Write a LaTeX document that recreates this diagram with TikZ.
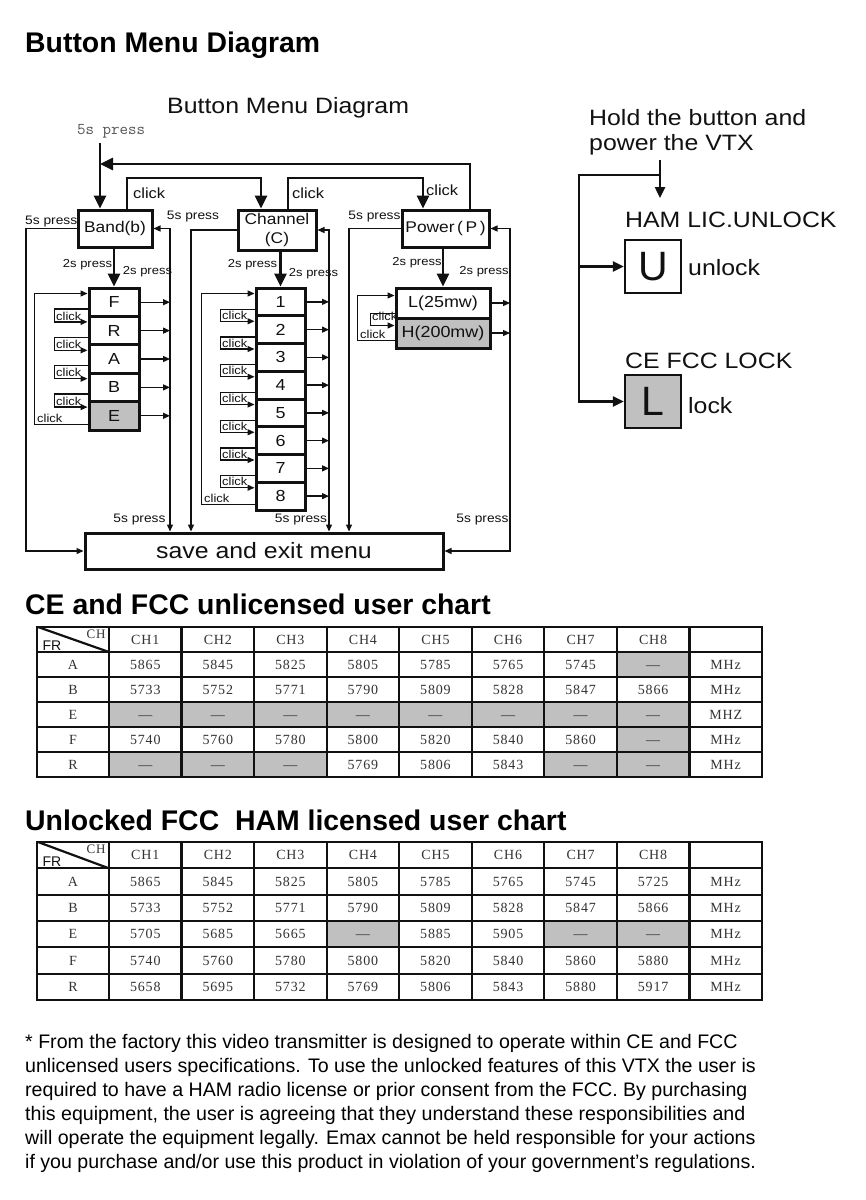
\documentclass[tikz,border=0pt]{standalone}
\usepackage{fontspec}
\setmainfont{Liberation Sans}
\newfontfamily\dg[FakeStretch=1.12]{Liberation Sans}
\newfontfamily\tb[LetterSpace=6]{Liberation Serif}
\usetikzlibrary{arrows.meta}
\definecolor{ink}{HTML}{111111}
\definecolor{cellgray}{HTML}{C0C0C0}
\definecolor{tink}{HTML}{333333}
\definecolor{monogray}{HTML}{555555}
\newcommand\fsz[1]{\fontsize{#1}{#1}\selectfont}
\def\gmark{g}
\tikzset{
  menubox/.style={draw=ink, line width=3pt, inner sep=0pt, font=\dg\fsz{15.5}, text=ink},
  stackbox/.style={draw=ink, line width=3pt, inner sep=0pt, font=\dg\fsz{16}, text=ink},
  thk/.style={draw=ink, line width=2.8pt, -{Triangle[length=13pt,width=12pt]}},
  thn/.style={draw=ink, line width=1.3pt, -{Triangle[length=7pt,width=6pt]}},
  thnb/.style={draw=ink, line width=1.3pt, {Triangle[length=7pt,width=6pt]}-{Triangle[length=7pt,width=6pt]}},
  lbl/.style={inner sep=0pt, font=\dg\fsz{12.3}, text=ink},
  twos/.style={inner sep=0pt, font=\dg\fsz{11.6}, text=ink},
  clk/.style={inner sep=0pt, font=\dg\fsz{14.7}, text=ink},
  sclk/.style={inner sep=0.5pt, font=\dg\fsz{11.5}, text=ink, anchor=south west},
  bigtxt/.style={inner sep=0pt, font=\dg\fsz{22.2}, text=ink, anchor=base west},
  headtxt/.style={inner sep=0pt, font=\bfseries\fsz{28.4}, text=black, anchor=base west},
  foottxt/.style={inner sep=0pt, font=\fsz{19.6}, text=black, anchor=base west},
  tcell/.style={inner sep=0pt, font=\tb\fsz{14}, text=tink},
  tline/.style={draw=ink, line width=2.2pt},
  rtip/.style={draw=ink, line width=2.4pt, -{Triangle[length=11pt,width=10pt]}},
  lockbox/.style={draw=ink, line width=2.4pt, minimum width=56pt, minimum height=53pt, inner sep=0pt, font=\fsz{41}, text=ink},
}
\newcommand\chartrow[4]{%
  \foreach \v [count=\i from 0] in {#4} {
    \pgfmathsetmacro\cl{\i==0 ? 37 : 109+72.55*(\i-1)}
    \pgfmathsetmacro\cR{\i==0 ? 109 : 109+72.55*\i}
    \edef\tmp{\v}
    \ifx\tmp\gmark
      \fill[cellgray] (\cl,#2) rectangle (\cR,#2+#3);
      \node[tcell] (#1-\i) at ({(\cl+\cR)/2},{#2+#3/2+3}) {—};
    \else
      \node[tcell] (#1-\i) at ({(\cl+\cR)/2},{#2+#3/2}) {\v};
    \fi
  }
}
\newcommand\chartgrid[2]{%
  \foreach \r in {1,...,5} \draw[tline] (37,{#1+#2*\r}) -- (762,{#1+#2*\r});
  \foreach \k in {1,...,9} \draw[tline] ({109+72.55*(\k-1)},#1) -- ({109+72.55*(\k-1)},{#1+6*#2});
  \draw[tline, line width=2.6pt] (37,#1) rectangle (762,{#1+6*#2});
  \draw[tline] (38,#1) -- (109,{#1+#2});
}
\begin{document}
\begin{tikzpicture}[x=1pt,y=-1pt]
\fill[white] (0,0) rectangle (866,1200);
\useasboundingbox (0,0) rectangle (866,1200);

% ---------- headings ----------
\node[headtxt] (title) at (25,52) {Button Menu Diagram};
\node[bigtxt] (subtitle) at (167,113) {Button Menu Diagram};
\node[inner sep=0pt, anchor=base west, font=\ttfamily\fsz{16.5}, text=monogray] (entrylbl) at (77,134) {5s press};

% ---------- menu boxes ----------
\node[menubox, minimum width=74pt, minimum height=37pt] (band) at (115,228.5) {Band(b)};
\node[menubox, minimum width=78pt, minimum height=40pt, align=center, font=\dg\fontsize{15.5}{19}\selectfont] (chan) at (277,230) {Channel\\(C)};
\node[menubox, minimum width=87pt, minimum height=37pt] (power) at (445.5,228.5) {Power\,(\,P\,)};

% band stack
\node[stackbox, minimum width=50pt, minimum height=28.4pt] (bF) at (114,302.2) {F};
\node[stackbox, minimum width=50pt, minimum height=28.4pt] (bR) at (114,330.6) {R};
\node[stackbox, minimum width=50pt, minimum height=28.4pt] (bA) at (114,359.0) {A};
\node[stackbox, minimum width=50pt, minimum height=28.4pt] (bB) at (114,387.4) {B};
\node[stackbox, minimum width=50pt, minimum height=28.4pt, fill=cellgray] (bE) at (114,415.8) {E};

% channel stack
\foreach \k in {1,...,8}
  \node[stackbox, minimum width=49pt, minimum height=27.75pt] (ch\k) at (280.5,{288+13.875+27.75*(\k-1)}) {\k};

% power stack
\node[stackbox, minimum width=94pt, minimum height=30pt] (pL) at (443,303) {L(25mw)};
\node[stackbox, minimum width=94pt, minimum height=30pt, fill=cellgray] (pH) at (443,333) {H(200mw)};

% save box
\node[menubox, minimum width=358pt, minimum height=36pt, font=\dg\fsz{22.2}] (save) at (264,551) {save and exit menu};

% ---------- coordinates ----------
\coordinate (entry) at (100,143);
\coordinate (k1) at (127,178);
\coordinate (k2) at (261,178);
\coordinate (k3) at (288,178);
\coordinate (k4) at (423,178);
\coordinate (k5) at (470,164);
\coordinate (r1) at (26,0);
\coordinate (r2) at (170,0);
\coordinate (r3) at (191,0);
\coordinate (r4) at (329,0);
\coordinate (r5) at (349,0);
\coordinate (r6) at (510,0);

% ---------- thick connectors ----------
\draw[thk] (entry) -- (entry |- band.north);
\draw[thk] (power.north -| k5) -- (k5) -- (k5 -| entry);
\draw[thk] (band.north -| k1) |- (k2) -- (k2 |- chan.north);
\draw[thk] (chan.north -| k3) |- (k4) -- (k4 |- power.north);
\draw[thk] (bF.north |- band.south) -- (bF.north);
\draw[thk] (ch1.north |- chan.south) -- (ch1.north);
\draw[thk] (pL.north |- power.south) -- (pL.north);

% ---------- thin 5s-press rails ----------
\draw[thn] (band.west) -| (r1 |- save.west) -- (save.west);
\draw[thnb] (band.east) -| (r2 |- save.north);
\draw[thn] (chan.west) -| (r3 |- save.north);
\draw[thnb] (chan.east) -| (r4 |- save.north);
\draw[thn] (power.west) -| (r5 |- save.north);
\draw[thnb] (power.east) -| (r6 |- save.east) -- (save.east);

% item outputs
\foreach \n in {bF,bR,bA,bB,bE} \draw[thn] (\n.east) -- (\n.east -| r2);
\foreach \k in {1,...,8} \draw[thn] (ch\k.east) -- (ch\k.east -| r4);
\foreach \n in {pL,pH} \draw[thn] (\n.east) -- (\n.east -| r6);

% band loops
\draw[thn] ([yshift=7pt]bE.south west) -- ++(-53,0) |- ([yshift=-7pt]bF.north west);
\node[sclk] (bclk) at ([xshift=-51pt,yshift=8pt]bE.south west) {click};
\foreach \a/\b in {bF/bR,bR/bA,bA/bB,bB/bE} {
  \draw[thn] ([yshift=9pt]\a.south west) -- ++(-33,0) |- ([yshift=-7pt]\b.north west);
  \node[sclk] (clk\b) at ([xshift=-32pt,yshift=-6pt]\b.north west) {click};
}
% channel loops
\draw[thn] ([yshift=7pt]ch8.south west) -- ++(-53,0) |- ([yshift=-7pt]ch1.north west);
\node[sclk] (cclk) at ([xshift=-51pt,yshift=8pt]ch8.south west) {click};
\foreach \a/\b in {1/2,2/3,3/4,4/5,5/6,6/7,7/8} {
  \draw[thn] ([yshift=8pt]ch\a.south west) -- ++(-34,0) |- ([yshift=-7pt]ch\b.north west);
  \node[sclk] (clkc\b) at ([xshift=-33pt,yshift=-6pt]ch\b.north west) {click};
}
% power loops
\draw[thn] ([yshift=9pt]pH.south west) -- ++(-37,0) |- ([yshift=-9pt]pL.north west);
\node[sclk] (pclk) at ([xshift=-35pt,yshift=10pt]pH.south west) {click};
\draw[thn] ([yshift=6pt]pL.south west) -- ++(-24,0) |- ([yshift=-9pt]pH.north west);
\node[sclk] (pclks) at ([xshift=-23pt,yshift=-5pt]pH.north west) {click};

% ---------- diagram labels ----------
\node[clk, anchor=west] (c1) at (133,193) {click};
\node[clk, anchor=west] (c2) at (292,193) {click};
\node[clk, anchor=west] (c3) at (426,190) {click};
\node[lbl, anchor=south west] (p5a) at (25,227) {5s press};
\node[lbl] (p5b) at (193,217) {5s press};
\node[lbl] (p5c) at (374.5,217) {5s press};
\node[lbl] (p5d) at (139.5,520) {5s press};
\node[lbl] (p5e) at (301,520) {5s press};
\node[lbl] (p5f) at (482.5,520) {5s press};
\node[twos] (s2a) at (87.5,265) {2s press};
\node[twos] (s2b) at (147.5,272) {2s press};
\node[twos] (s2c) at (252.5,265) {2s press};
\node[twos] (s2d) at (313.5,274) {2s press};
\node[twos] (s2e) at (417,263) {2s press};
\node[twos] (s2f) at (484,272) {2s press};

% ---------- right side ----------
\node[bigtxt] (hold1) at (589,125) {Hold the button and};
\node[bigtxt] (hold2) at (589,150) {power the VTX};
\node[bigtxt] (ham) at (625,227) {HAM LIC.UNLOCK};
\node[lockbox] (ubox) at (653,266.5) {U};
\node[bigtxt] (unl) at (688,275) {unlock};
\node[bigtxt] (cefcc) at (625,368) {CE FCC LOCK};
\node[lockbox, fill=cellgray] (lbox) at (653,401.5) {L};
\node[bigtxt] (lk) at (688,413) {lock};
\coordinate (hin) at (660,160);
\coordinate (hout) at (660,198);
\coordinate (rj) at (660,175);
\coordinate (rc) at (579,175);
\draw[rtip] (hin) -- (hout);
\draw[rtip] (rj) -- (rc) |- (lbox.west);
\draw[rtip] (rc |- ubox.west) -- (ubox.west);

% ---------- chart 1 ----------
\node[headtxt] (h1) at (25,614) {CE and FCC unlicensed user chart};
\chartrow{ta}{652}{25}{A,5865,5845,5825,5805,5785,5765,5745,g,MHz}
\chartrow{tb}{677}{25}{B,5733,5752,5771,5790,5809,5828,5847,5866,MHz}
\chartrow{tc}{702}{25}{E,g,g,g,g,g,g,g,g,MHZ}
\chartrow{td}{727}{25}{F,5740,5760,5780,5800,5820,5840,5860,g,MHz}
\chartrow{te}{752}{25}{R,g,g,g,5769,5806,5843,g,g,MHz}
\chartrow{th}{627}{25}{{},CH1,CH2,CH3,CH4,CH5,CH6,CH7,CH8,{}}
\chartgrid{627}{25}
\node[inner sep=0pt, font=\fsz{14}, text=ink] (fr1) at (52,646) {FR};
\node[inner sep=0pt, font=\tb\fsz{13}, text=tink] (chh1) at (96,634) {CH};

% ---------- chart 2 ----------
\node[headtxt] (h2) at (25,830) {Unlocked FCC\ \ HAM licensed user chart};
\chartrow{ua}{868.33}{26.33}{A,5865,5845,5825,5805,5785,5765,5745,5725,MHz}
\chartrow{ub}{894.67}{26.33}{B,5733,5752,5771,5790,5809,5828,5847,5866,MHz}
\chartrow{uc}{921}{26.33}{E,5705,5685,5665,g,5885,5905,g,g,MHz}
\chartrow{ud}{947.33}{26.33}{F,5740,5760,5780,5800,5820,5840,5860,5880,MHz}
\chartrow{ue}{973.67}{26.33}{R,5658,5695,5732,5769,5806,5843,5880,5917,MHz}
\chartrow{uh}{842}{26.33}{{},CH1,CH2,CH3,CH4,CH5,CH6,CH7,CH8,{}}
\chartgrid{842}{26.33}
\node[inner sep=0pt, font=\fsz{14}, text=ink] (fr2) at (52,862) {FR};
\node[inner sep=0pt, font=\tb\fsz{13}, text=tink] (chh2) at (96,849) {CH};

% ---------- footer ----------
\node[foottxt] (f1) at (25,1048.5) {* From the factory this video transmitter is designed to operate within CE and FCC};
\node[foottxt] (f2) at (25,1072.5) {unlicensed users specifications. To use the unlocked features of this VTX the user is};
\node[foottxt] (f3) at (25,1096.5) {required to have a HAM radio license or prior consent from the FCC. By purchasing};
\node[foottxt] (f4) at (25,1120.5) {this equipment, the user is agreeing that they understand these responsibilities and};
\node[foottxt] (f5) at (25,1144.5) {will operate the equipment legally. Emax cannot be held responsible for your actions};
\node[foottxt] (f6) at (25,1168.5) {if you purchase and/or use this product in violation of your government's regulations.};
\end{tikzpicture}
\end{document}
